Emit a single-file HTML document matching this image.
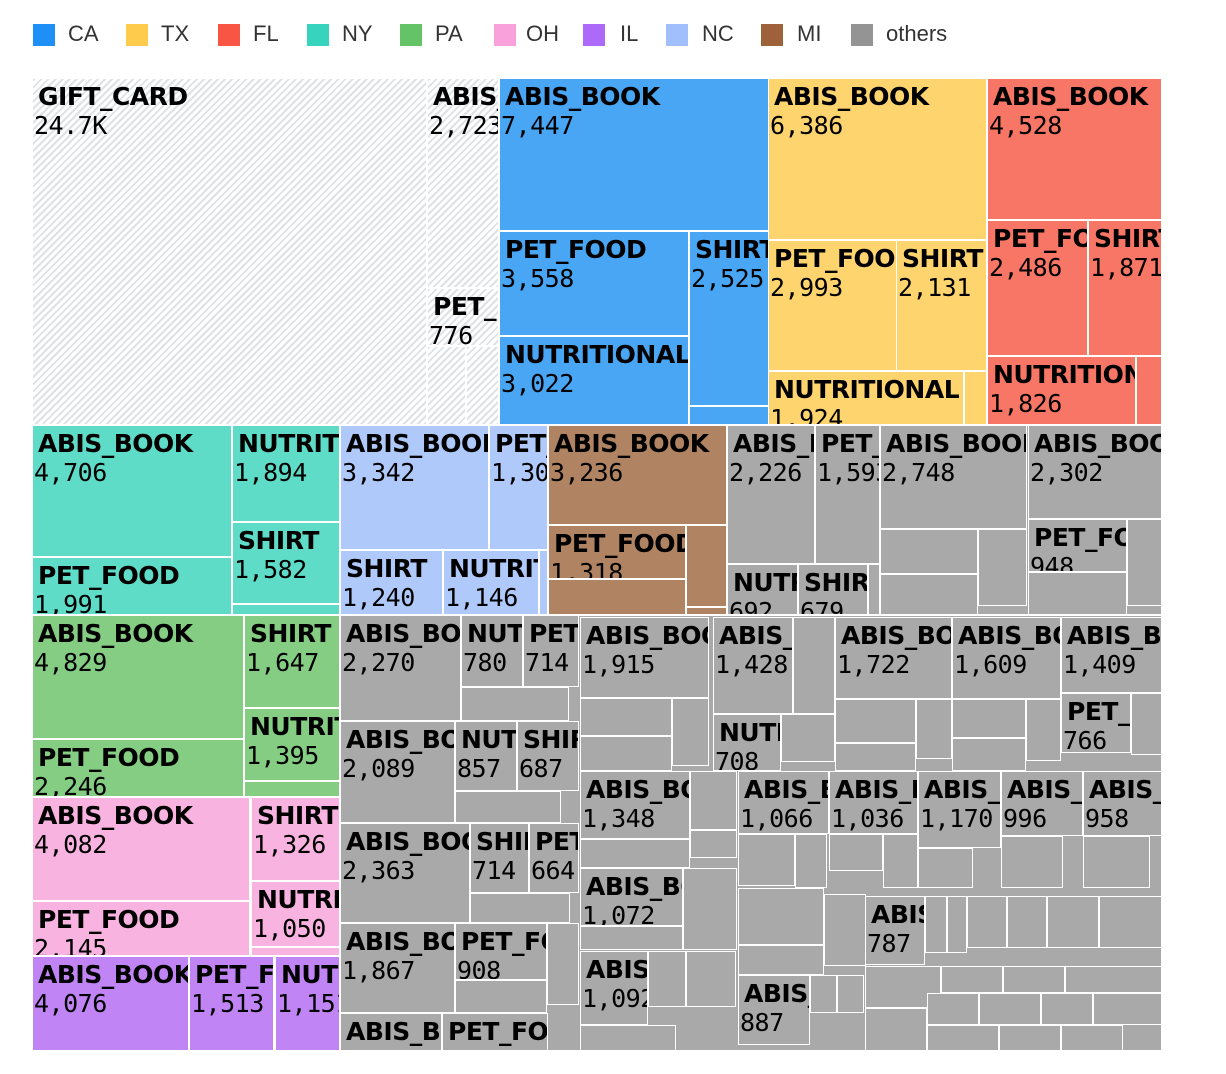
<!DOCTYPE html><html><head><meta charset="utf-8"><style>
body{margin:0;width:1226px;height:1074px;background:#fff;position:relative;overflow:hidden;font-family:"Liberation Sans",sans-serif}
.lg{position:absolute;top:24px;width:22px;height:22px}
.lt{position:absolute;top:20px;font-size:22px;color:#333;line-height:28px}
.c{position:absolute;overflow:hidden;box-sizing:border-box;outline:1px solid #fff;padding:3px 0 0 3px;white-space:nowrap}
.c b{display:block;font-family:"DejaVu Sans","Liberation Sans",sans-serif;font-weight:bold;font-size:25px;line-height:30px;letter-spacing:-0.5px;padding-left:2px}
.c i{display:block;font-style:normal;font-family:"DejaVu Sans Mono","Liberation Mono",monospace;font-size:25px;line-height:28px;letter-spacing:-0.5px;margin-left:-2px}
.h{background:repeating-linear-gradient(135deg,#dde2e6 0 2px,#fff 2px 5px)}
.A{background:#48a6f5}.T{background:#fed46f}.F{background:#f87666}.N{background:#5fdcc8}.P{background:#84cd82}.O{background:#f9b3e0}.I{background:#c084f5}.C{background:#b0c9fb}.M{background:#b08462}.G{background:#a9a9a9}
</style></head><body>
<div class="lg" style="left:33px;background:#1e90f5"></div><div class="lt" style="left:68px">CA</div>
<div class="lg" style="left:126px;background:#ffcb4c"></div><div class="lt" style="left:161px">TX</div>
<div class="lg" style="left:218px;background:#f85545"></div><div class="lt" style="left:253px">FL</div>
<div class="lg" style="left:307px;background:#36d4bc"></div><div class="lt" style="left:342px">NY</div>
<div class="lg" style="left:400px;background:#63c366"></div><div class="lt" style="left:435px">PA</div>
<div class="lg" style="left:494px;background:#f8a1da"></div><div class="lt" style="left:526px">OH</div>
<div class="lg" style="left:583px;background:#ad6af8"></div><div class="lt" style="left:620px">IL</div>
<div class="lg" style="left:666px;background:#a1bffc"></div><div class="lt" style="left:702px">NC</div>
<div class="lg" style="left:761px;background:#9e623a"></div><div class="lt" style="left:797px">MI</div>
<div class="lg" style="left:851px;background:#949494"></div><div class="lt" style="left:886px">others</div>

<div class="G" style="position:absolute;left:727px;top:426px;width:434px;height:188px"></div>
<div class="G" style="position:absolute;left:341px;top:616px;width:820px;height:434px"></div>

<div class="c h" style="left:33px;top:79px;width:393px;height:345px"><b>GIFT_CARD</b><i>24.7K</i></div>
<div class="c h" style="left:428px;top:79px;width:70px;height:208px"><b>ABIS_BOOK</b><i>2,723</i></div>
<div class="c h" style="left:428px;top:289px;width:70px;height:56px"><b>PET_FOOD</b><i>776</i></div>
<div class="c h" style="left:428px;top:347px;width:37px;height:77px"></div>
<div class="c h" style="left:467px;top:347px;width:31px;height:77px"></div>
<div class="c A" style="left:500px;top:79px;width:268px;height:151px"><b>ABIS_BOOK</b><i>7,447</i></div>
<div class="c A" style="left:500px;top:232px;width:188px;height:103px"><b>PET_FOOD</b><i>3,558</i></div>
<div class="c A" style="left:500px;top:337px;width:188px;height:87px"><b>NUTRITIONAL</b><i>3,022</i></div>
<div class="c A" style="left:690px;top:232px;width:78px;height:173px"><b>SHIRT</b><i>2,525</i></div>
<div class="c A" style="left:690px;top:407px;width:78px;height:17px"></div>
<div class="c T" style="left:769px;top:79px;width:217px;height:160px"><b>ABIS_BOOK</b><i>6,386</i></div>
<div class="c T" style="left:769px;top:241px;width:127px;height:129px"><b>PET_FOOD</b><i>2,993</i></div>
<div class="c T" style="left:897px;top:241px;width:89px;height:129px"><b>SHIRT</b><i>2,131</i></div>
<div class="c T" style="left:769px;top:372px;width:194px;height:52px"><b>NUTRITIONAL</b><i>1,924</i></div>
<div class="c T" style="left:965px;top:372px;width:21px;height:52px"></div>
<div class="c F" style="left:988px;top:79px;width:173px;height:140px"><b>ABIS_BOOK</b><i>4,528</i></div>
<div class="c F" style="left:988px;top:221px;width:99px;height:134px"><b>PET_FOOD</b><i>2,486</i></div>
<div class="c F" style="left:1089px;top:221px;width:72px;height:134px"><b>SHIRT</b><i>1,871</i></div>
<div class="c F" style="left:988px;top:357px;width:147px;height:67px"><b>NUTRITIONAL</b><i>1,826</i></div>
<div class="c F" style="left:1137px;top:357px;width:24px;height:67px"></div>
<div class="c N" style="left:33px;top:426px;width:198px;height:130px"><b>ABIS_BOOK</b><i>4,706</i></div>
<div class="c N" style="left:33px;top:558px;width:198px;height:56px"><b>PET_FOOD</b><i>1,991</i></div>
<div class="c N" style="left:233px;top:426px;width:106px;height:95px"><b>NUTRITIONAL</b><i>1,894</i></div>
<div class="c N" style="left:233px;top:523px;width:106px;height:80px"><b>SHIRT</b><i>1,582</i></div>
<div class="c N" style="left:233px;top:605px;width:106px;height:9px"></div>
<div class="c C" style="left:341px;top:426px;width:147px;height:123px"><b>ABIS_BOOK</b><i>3,342</i></div>
<div class="c C" style="left:490px;top:426px;width:57px;height:123px"><b>PET_FOOD</b><i>1,301</i></div>
<div class="c C" style="left:341px;top:551px;width:101px;height:63px"><b>SHIRT</b><i>1,240</i></div>
<div class="c C" style="left:444px;top:551px;width:94px;height:63px"><b>NUTRITIONAL</b><i>1,146</i></div>
<div class="c C" style="left:540px;top:551px;width:7px;height:63px"></div>
<div class="c M" style="left:549px;top:426px;width:177px;height:98px"><b>ABIS_BOOK</b><i>3,236</i></div>
<div class="c M" style="left:549px;top:526px;width:136px;height:52px"><b>PET_FOOD</b><i>1,318</i></div>
<div class="c M" style="left:687px;top:526px;width:39px;height:80px"></div>
<div class="c M" style="left:549px;top:580px;width:136px;height:34px"></div>
<div class="c M" style="left:687px;top:608px;width:39px;height:6px"></div>
<div class="c G" style="left:728px;top:426px;width:86px;height:137px"><b>ABIS_BOOK</b><i>2,226</i></div>
<div class="c G" style="left:816px;top:426px;width:63px;height:137px"><b>PET_FOOD</b><i>1,593</i></div>
<div class="c G" style="left:728px;top:565px;width:69px;height:49px"><b>NUTRITIONAL</b><i>692</i></div>
<div class="c G" style="left:799px;top:565px;width:68px;height:49px"><b>SHIRT</b><i>679</i></div>
<div class="c G" style="left:869px;top:565px;width:10px;height:49px"></div>
<div class="c G" style="left:881px;top:426px;width:145px;height:102px"><b>ABIS_BOOK</b><i>2,748</i></div>
<div class="c G" style="left:881px;top:530px;width:96px;height:43px"></div>
<div class="c G" style="left:881px;top:575px;width:96px;height:39px"></div>
<div class="c G" style="left:979px;top:530px;width:47px;height:75px"></div>
<div class="c G" style="left:1029px;top:426px;width:132px;height:92px"><b>ABIS_BOOK</b><i>2,302</i></div>
<div class="c G" style="left:1029px;top:520px;width:97px;height:51px"><b>PET_FOOD</b><i>948</i></div>
<div class="c G" style="left:1029px;top:573px;width:97px;height:41px"></div>
<div class="c G" style="left:1128px;top:520px;width:33px;height:85px"></div>
<div class="c P" style="left:33px;top:616px;width:210px;height:122px"><b>ABIS_BOOK</b><i>4,829</i></div>
<div class="c P" style="left:33px;top:740px;width:210px;height:56px"><b>PET_FOOD</b><i>2,246</i></div>
<div class="c P" style="left:245px;top:616px;width:94px;height:91px"><b>SHIRT</b><i>1,647</i></div>
<div class="c P" style="left:245px;top:709px;width:94px;height:71px"><b>NUTRITIONAL</b><i>1,395</i></div>
<div class="c P" style="left:245px;top:782px;width:94px;height:14px"></div>
<div class="c O" style="left:33px;top:798px;width:216px;height:102px"><b>ABIS_BOOK</b><i>4,082</i></div>
<div class="c O" style="left:33px;top:902px;width:216px;height:53px"><b>PET_FOOD</b><i>2,145</i></div>
<div class="c O" style="left:252px;top:798px;width:87px;height:82px"><b>SHIRT</b><i>1,326</i></div>
<div class="c O" style="left:252px;top:882px;width:87px;height:64px"><b>NUTRITIONAL</b><i>1,050</i></div>
<div class="c O" style="left:252px;top:948px;width:87px;height:7px"></div>
<div class="c I" style="left:33px;top:957px;width:155px;height:93px"><b>ABIS_BOOK</b><i>4,076</i></div>
<div class="c I" style="left:190px;top:957px;width:83px;height:93px"><b>PET_FOOD</b><i>1,513</i></div>
<div class="c I" style="left:276px;top:957px;width:63px;height:93px"><b>NUTRITIONAL</b><i>1,151</i></div>
<div class="c G" style="left:341px;top:616px;width:119px;height:104px"><b>ABIS_BOOK</b><i>2,270</i></div>
<div class="c G" style="left:462px;top:616px;width:60px;height:70px"><b>NUTRITIONAL</b><i>780</i></div>
<div class="c G" style="left:524px;top:616px;width:54px;height:70px"><b>PET_FOOD</b><i>714</i></div>
<div class="c G" style="left:462px;top:688px;width:106px;height:32px"></div>
<div class="c G" style="left:341px;top:722px;width:113px;height:100px"><b>ABIS_BOOK</b><i>2,089</i></div>
<div class="c G" style="left:456px;top:722px;width:60px;height:68px"><b>NUTRITIONAL</b><i>857</i></div>
<div class="c G" style="left:518px;top:722px;width:60px;height:68px"><b>SHIRT</b><i>687</i></div>
<div class="c G" style="left:456px;top:792px;width:104px;height:30px"></div>
<div class="c G" style="left:341px;top:824px;width:128px;height:98px"><b>ABIS_BOOK</b><i>2,363</i></div>
<div class="c G" style="left:471px;top:824px;width:57px;height:68px"><b>SHIRT</b><i>714</i></div>
<div class="c G" style="left:530px;top:824px;width:48px;height:68px"><b>PET_FOOD</b><i>664</i></div>
<div class="c G" style="left:471px;top:894px;width:98px;height:28px"></div>
<div class="c G" style="left:341px;top:924px;width:113px;height:88px"><b>ABIS_BOOK</b><i>1,867</i></div>
<div class="c G" style="left:456px;top:924px;width:90px;height:55px"><b>PET_FOOD</b><i>908</i></div>
<div class="c G" style="left:456px;top:981px;width:90px;height:31px"></div>
<div class="c G" style="left:548px;top:924px;width:30px;height:80px"></div>
<div class="c G" style="left:341px;top:1014px;width:100px;height:36px"><b>ABIS_BOOK</b></div>
<div class="c G" style="left:443px;top:1014px;width:104px;height:36px"><b>PET_FOOD</b></div>
<div class="c G" style="left:581px;top:618px;width:127px;height:79px"><b>ABIS_BOOK</b><i>1,915</i></div>
<div class="c G" style="left:581px;top:699px;width:90px;height:36px"></div>
<div class="c G" style="left:581px;top:737px;width:90px;height:33px"></div>
<div class="c G" style="left:673px;top:699px;width:35px;height:66px"></div>
<div class="c G" style="left:714px;top:618px;width:78px;height:95px"><b>ABIS_BOOK</b><i>1,428</i></div>
<div class="c G" style="left:794px;top:618px;width:40px;height:95px"></div>
<div class="c G" style="left:714px;top:715px;width:66px;height:55px"><b>NUTRITIONAL</b><i>708</i></div>
<div class="c G" style="left:782px;top:715px;width:52px;height:46px"></div>
<div class="c G" style="left:836px;top:618px;width:115px;height:80px"><b>ABIS_BOOK</b><i>1,722</i></div>
<div class="c G" style="left:836px;top:700px;width:79px;height:42px"></div>
<div class="c G" style="left:836px;top:744px;width:79px;height:26px"></div>
<div class="c G" style="left:917px;top:700px;width:34px;height:58px"></div>
<div class="c G" style="left:953px;top:618px;width:107px;height:80px"><b>ABIS_BOOK</b><i>1,609</i></div>
<div class="c G" style="left:953px;top:700px;width:72px;height:37px"></div>
<div class="c G" style="left:953px;top:739px;width:72px;height:31px"></div>
<div class="c G" style="left:1027px;top:700px;width:33px;height:60px"></div>
<div class="c G" style="left:1062px;top:618px;width:99px;height:74px"><b>ABIS_BOOK</b><i>1,409</i></div>
<div class="c G" style="left:1062px;top:694px;width:68px;height:58px"><b>PET_FOOD</b><i>766</i></div>
<div class="c G" style="left:1132px;top:694px;width:29px;height:60px"></div>
<div class="c G" style="left:581px;top:772px;width:108px;height:66px"><b>ABIS_BOOK</b><i>1,348</i></div>
<div class="c G" style="left:581px;top:840px;width:108px;height:27px"></div>
<div class="c G" style="left:691px;top:772px;width:45px;height:57px"></div>
<div class="c G" style="left:691px;top:831px;width:45px;height:26px"></div>
<div class="c G" style="left:739px;top:772px;width:89px;height:61px"><b>ABIS_BOOK</b><i>1,066</i></div>
<div class="c G" style="left:739px;top:835px;width:55px;height:50px"></div>
<div class="c G" style="left:796px;top:835px;width:30px;height:52px"></div>
<div class="c G" style="left:830px;top:772px;width:87px;height:61px"><b>ABIS_BOOK</b><i>1,036</i></div>
<div class="c G" style="left:830px;top:835px;width:52px;height:35px"></div>
<div class="c G" style="left:884px;top:835px;width:33px;height:52px"></div>
<div class="c G" style="left:919px;top:772px;width:81px;height:75px"><b>ABIS_BOOK</b><i>1,170</i></div>
<div class="c G" style="left:919px;top:849px;width:53px;height:38px"></div>
<div class="c G" style="left:1002px;top:772px;width:80px;height:63px"><b>ABIS_BOOK</b><i>996</i></div>
<div class="c G" style="left:1002px;top:837px;width:60px;height:50px"></div>
<div class="c G" style="left:1084px;top:772px;width:77px;height:63px"><b>ABIS_BOOK</b><i>958</i></div>
<div class="c G" style="left:1084px;top:837px;width:65px;height:50px"></div>
<div class="c G" style="left:581px;top:869px;width:101px;height:56px"><b>ABIS_BOOK</b><i>1,072</i></div>
<div class="c G" style="left:581px;top:927px;width:101px;height:22px"></div>
<div class="c G" style="left:684px;top:869px;width:52px;height:80px"></div>
<div class="c G" style="left:739px;top:889px;width:84px;height:55px"></div>
<div class="c G" style="left:739px;top:946px;width:84px;height:28px"></div>
<div class="c G" style="left:825px;top:895px;width:40px;height:70px"></div>
<div class="c G" style="left:866px;top:897px;width:58px;height:67px"><b>ABIS_BOOK</b><i>787</i></div>
<div class="c G" style="left:926px;top:897px;width:20px;height:55px"></div>
<div class="c G" style="left:948px;top:897px;width:18px;height:55px"></div>
<div class="c G" style="left:968px;top:897px;width:38px;height:50px"></div>
<div class="c G" style="left:1008px;top:897px;width:38px;height:50px"></div>
<div class="c G" style="left:1048px;top:897px;width:50px;height:50px"></div>
<div class="c G" style="left:1100px;top:897px;width:61px;height:50px"></div>
<div class="c G" style="left:581px;top:952px;width:66px;height:72px"><b>ABIS_BOOK</b><i>1,092</i></div>
<div class="c G" style="left:649px;top:952px;width:36px;height:54px"></div>
<div class="c G" style="left:687px;top:952px;width:48px;height:54px"></div>
<div class="c G" style="left:581px;top:1026px;width:94px;height:24px"></div>
<div class="c G" style="left:739px;top:976px;width:70px;height:68px"><b>ABIS_BOOK</b><i>887</i></div>
<div class="c G" style="left:811px;top:976px;width:25px;height:36px"></div>
<div class="c G" style="left:838px;top:976px;width:25px;height:36px"></div>
<div class="c G" style="left:866px;top:967px;width:74px;height:40px"></div>
<div class="c G" style="left:942px;top:967px;width:60px;height:25px"></div>
<div class="c G" style="left:1004px;top:967px;width:60px;height:25px"></div>
<div class="c G" style="left:1066px;top:967px;width:95px;height:25px"></div>
<div class="c G" style="left:866px;top:1009px;width:60px;height:41px"></div>
<div class="c G" style="left:928px;top:994px;width:50px;height:30px"></div>
<div class="c G" style="left:980px;top:994px;width:60px;height:30px"></div>
<div class="c G" style="left:1042px;top:994px;width:50px;height:30px"></div>
<div class="c G" style="left:1094px;top:994px;width:67px;height:30px"></div>
<div class="c G" style="left:928px;top:1026px;width:70px;height:24px"></div>
<div class="c G" style="left:1000px;top:1026px;width:60px;height:24px"></div>
<div class="c G" style="left:1062px;top:1026px;width:60px;height:24px"></div>
</body></html>
